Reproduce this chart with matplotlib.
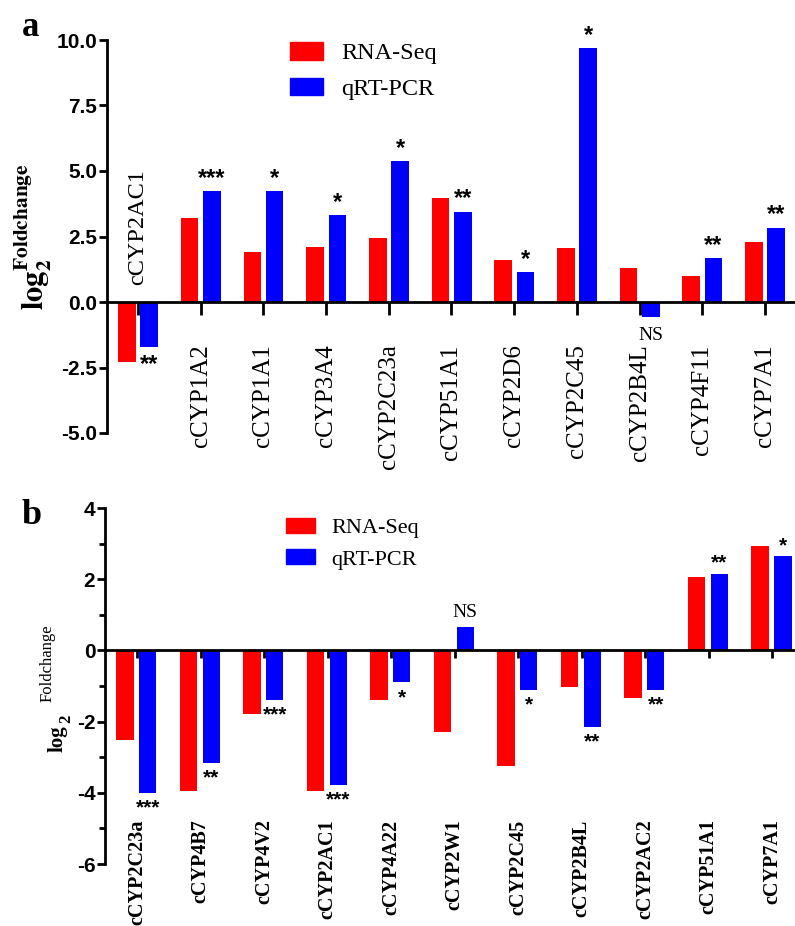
import numpy as np
import matplotlib
matplotlib.use('Agg')
import matplotlib.pyplot as plt
from matplotlib.patches import Patch

plt.rcParams['mathtext.fontset'] = 'stix'
plt.rcParams['font.family'] = 'Liberation Sans'

# panel a data
genes_a = ['cCYP2AC1', 'cCYP1A2', 'cCYP1A1', 'cCYP3A4', 'cCYP2C23a', 'cCYP51A1',
           'cCYP2D6', 'cCYP2C45', 'cCYP2B4L', 'cCYP4F11', 'cCYP7A1']
rnaseq_a = [-2.29, 3.2, 1.9, 2.1, 2.44, 3.97, 1.6, 2.07, 1.3, 0.99, 2.29]
qpcr_a = [-1.72, 4.24, 4.24, 3.32, 5.38, 3.44, 1.14, 9.69, -0.57, 1.68, 2.84]
sig_a = ['**', '***', '*', '*', '*', '**', '*', '*', 'NS', '**', '**']
yticks_a = [-5.0, -2.5, 0.0, 2.5, 5.0, 7.5, 10.0]

# panel b data
genes_b = ['cCYP2C23a', 'cCYP4B7', 'cCYP4V2', 'cCYP2AC1', 'cCYP4A22', 'cCYP2W1',
           'cCYP2C45', 'cCYP2B4L', 'cCYP2AC2', 'cCYP51A1', 'cCYP7A1']
rnaseq_b = [-2.53, -3.96, -1.8, -3.96, -1.38, -2.3, -3.26, -1.04, -1.35, 2.05, 2.92]
qpcr_b = [-4.0, -3.17, -1.38, -3.79, -0.9, 0.67, -1.1, -2.16, -1.1, 2.16, 2.64]
sig_b = ['***', '**', '***', '***', '*', 'NS', '*', '**', '**', '**', '*']
yticks_b = [-6, -4, -2, 0, 2, 4]

RED = '#ff0000'
BLUE = '#0000ff'
W, H = 795, 926

fig = plt.figure(figsize=(W / 100, H / 100), dpi=100)

def frac(x0, x1, ytop, ybot):
    return [x0 / W, 1 - ybot / H, (x1 - x0) / W, (ybot - ytop) / H]

def px(x, y):
    return x / W, 1 - y / H


def draw_panel(ax, genes, rna, qpcr, sig, yticks, ylim, xlim, bw, offs,
               label_size, label_weight, label_y, tick_len, fmt, star_size):
    x = np.arange(len(genes))
    ax.bar(x + offs[0], rna, bw, color=RED, label='RNA-Seq')
    ax.bar(x + offs[1], qpcr, bw, color=BLUE, label='qRT-PCR')
    ax.set_xlim(*xlim)
    ax.set_ylim(*ylim)
    for s in ['top', 'right']:
        ax.spines[s].set_visible(False)
    ax.spines['bottom'].set_position(('data', 0))
    ax.spines['bottom'].set_linewidth(2)
    ax.spines['left'].set_linewidth(2)
    ax.set_xticks(x)
    ax.set_xticklabels([])
    ax.tick_params(axis='x', direction='out', length=tick_len, width=2)
    ax.set_yticks(yticks)
    ax.set_yticklabels([fmt.format(v) for v in yticks], fontsize=15, fontweight='bold')
    ax.tick_params(axis='y', direction='out', length=6, width=2, pad=1)
    for i, g in enumerate(genes):
        ax.text(i, label_y, g, rotation=90, ha='center', va='top',
                fontsize=label_size, fontweight=label_weight, family='Liberation Serif')
    for i, s in enumerate(sig):
        v = qpcr[i]
        if s == 'NS':
            kw = dict(fontsize=14, family='Liberation Serif')
            off = 4
        else:
            kw = dict(fontsize=star_size, fontweight='bold', family='Liberation Sans')
            off = 1
        if v >= 0:
            ax.annotate(s, (i + offs[1], v), xytext=(0, off), textcoords='offset points',
                        ha='center', va='bottom', **kw)
        else:
            ax.annotate(s, (i + offs[1], v), xytext=(0, -off - 3), textcoords='offset points',
                        ha='center', va='top', **kw)
    return x


# ---- panel a
ax1 = fig.add_axes(frac(107, 795, 40, 433))
draw_panel(ax1, genes_a, rnaseq_a, qpcr_a, sig_a, yticks_a, (-5, 10), (-0.494, 10.48),
           0.28, (-0.175, 0.18), 18, 'normal', -1.62, 9, '{:.1f}', 17)
# the first label sits above the axis because both bars are negative
ax1.texts[0].set_y(0.65)
ax1.texts[0].set_va('bottom')
ax1.texts[0].set_fontsize(17.5)
ax1.set_ylabel(r'$\mathbf{log}_{\mathbf{2}}^{\mathbf{Foldchange}}$', fontsize=22)
ax1.yaxis.set_label_coords(-0.077, 0.5)
ax1.legend(handles=[Patch(color=RED, label='RNA-Seq'), Patch(color=BLUE, label='qRT-PCR')],
           loc='upper left', bbox_to_anchor=px(290, 42), bbox_transform=fig.transFigure,
           frameon=False, borderpad=0, borderaxespad=0, handlelength=1.35, handleheight=0.74,
           handletextpad=0.75, labelspacing=0.55, prop={'family': 'Liberation Serif', 'size': 17.5})
fig.text(*px(22, 27), 'a', fontsize=25, fontweight='bold', family='Liberation Serif',
         ha='left', va='center')

# ---- panel b
ax2 = fig.add_axes(frac(105, 795, 508, 864))
draw_panel(ax2, genes_b, rnaseq_b, qpcr_b, sig_b, yticks_b, (-6, 4), (-0.504, 10.36),
           0.27, (-0.19, 0.17), 14.5, 'bold', -4.75, 6, '{:d}', 15)
ax2.set_yticks([-5, -3, -1, 1, 3], minor=True)
ax2.tick_params(axis='y', which='minor', direction='out', length=4, width=2)
# y label built from pieces: log, subscript 2, superscript Foldchange
fig.text(*px(58, 752), 'log', rotation=90, ha='center', va='bottom',
         fontsize=15, fontweight='bold', family='Liberation Serif')
fig.text(*px(66, 723), '2', rotation=90, ha='center', va='bottom',
         fontsize=12, fontweight='bold', family='Liberation Serif')
fig.text(*px(48, 702), 'Foldchange', rotation=90, ha='center', va='bottom',
         fontsize=12, family='Liberation Serif')
ax2.legend(handles=[Patch(color=RED, label='RNA-Seq'), Patch(color=BLUE, label='qRT-PCR')],
           loc='upper left', bbox_to_anchor=px(286, 518), bbox_transform=fig.transFigure,
           frameon=False, borderpad=0, borderaxespad=0, handlelength=1.3, handleheight=0.66,
           handletextpad=0.75, labelspacing=0.5, prop={'family': 'Liberation Serif', 'size': 16})
fig.text(*px(22, 515), 'b', fontsize=26, fontweight='bold', family='Liberation Serif',
         ha='left', va='center')

fig.savefig('out.png', dpi=100)
